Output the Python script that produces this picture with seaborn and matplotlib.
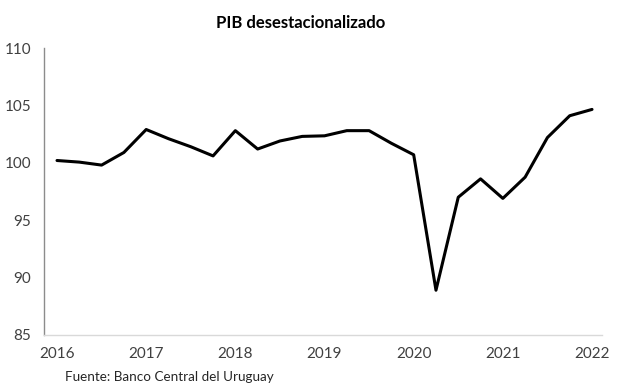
import matplotlib
matplotlib.use('Agg')
import matplotlib.pyplot as plt
import seaborn as sns
import pandas as pd

# quarterly seasonally adjusted GDP index, 2016Q1 .. 2022Q1
quarters = [2016 + k / 4 for k in range(25)]
pib = [100.2, 100.06, 99.8, 100.9, 102.9, 102.1, 101.4, 100.6,
       102.8, 101.2, 101.9, 102.3, 102.35, 102.8, 102.8, 101.7,
       100.7, 88.9, 97.0, 98.6, 96.9, 98.75, 102.2, 104.1, 104.65]
years = [2016, 2017, 2018, 2019, 2020, 2021, 2022]
yticks = [85, 90, 95, 100, 105, 110]

df = pd.DataFrame({"fecha": quarters, "pib": pib})

sns.set_style("white")
plt.rcParams['font.family'] = ['Lato', 'DejaVu Sans']

fig = plt.figure(figsize=(6.17, 3.90), dpi=100)
ax = fig.add_axes([44 / 617, 1 - 335 / 390, 558 / 617, 287 / 390])

sns.lineplot(data=df, x="fecha", y="pib", ax=ax, color="black",
             linewidth=2.2, solid_joinstyle="round", solid_capstyle="round")

ax.set_xlim(2015.854, 2022.112)
ax.set_ylim(85, 110)
ax.set_xticks(years)
ax.set_xticklabels([str(y) for y in years])
ax.set_yticks(yticks)
ax.set_xlabel("")
ax.set_ylabel("")

for s in ["top", "right"]:
    ax.spines[s].set_visible(False)
ax.spines["left"].set_color("#8c8c8c")
ax.spines["left"].set_linewidth(1.0)
ax.spines["bottom"].set_color("#d9d9d9")
ax.spines["bottom"].set_linewidth(1.0)

ax.tick_params(axis="y", length=4, width=1, color="#8c8c8c", pad=5,
               labelsize=11, labelcolor="#404040")
ax.tick_params(axis="x", length=0, pad=9, labelsize=11, labelcolor="#404040")

fig.text(301 / 617, 1 - 23 / 390, "PIB desestacionalizado", ha="center", va="center",
         fontsize=12, fontweight="bold", color="black")
fig.text(65 / 617, 1 - 377 / 390, "Fuente: Banco Central del Uruguay",
         ha="left", va="center", fontsize=9.7, color="#262626")

fig.savefig("out.png", dpi=100)
plt.close(fig)
